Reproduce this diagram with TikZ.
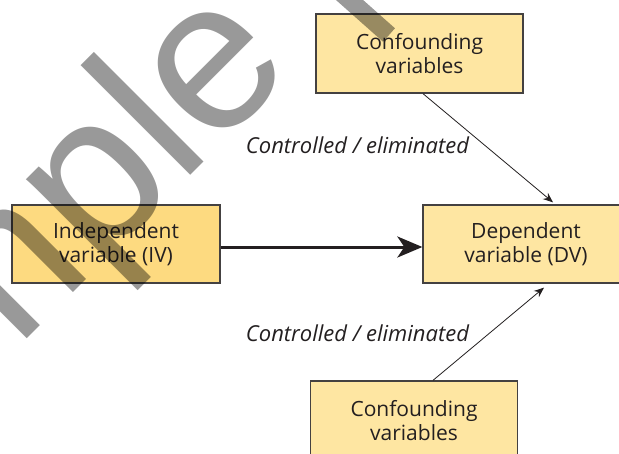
\documentclass[tikz,border=0pt]{standalone}
\usepackage{fontspec}
\setmainfont{Open Sans}
\newfontfamily\markfont{Liberation Sans}
\usetikzlibrary{arrows.meta}
\definecolor{ivfill}{HTML}{FDDA80}
\definecolor{boxfill}{HTML}{FEE6A2}
\definecolor{ink}{HTML}{231F20}
\tikzset{
  varbox/.style={draw=ink!85, line width=1.3pt, fill=boxfill, minimum width=207pt,
    minimum height=79pt, align=center, inner sep=0pt, text=ink,
    font=\fontsize{21}{24.5}\selectfont},
  ctrl/.style={font=\fontsize{22}{26}\selectfont\itshape, text=ink, anchor=base, inner sep=0pt},
  thinarrow/.style={-{Stealth[length=10pt,width=8pt]}, line width=0.8pt, draw=ink}
}

\begin{document}
\begin{tikzpicture}[x=1pt,y=-1pt]
        \useasboundingbox (0,0) rectangle (619,453);
        \clip (0,0) rectangle (619,453);
        \fill[white] (0,0) rectangle (619,453);
        % boxes
        \node[varbox] (conftop) at (419.5,53.5) {Confounding\\variables};
        \node[varbox, fill=ivfill, minimum width=208pt, minimum height=78pt] (iv) at (116,244) {Independent\\variable (IV)};
        \node[varbox, minimum width=206pt, minimum height=78pt] (dv) at (526,244) {Dependent\\variable (DV)};
        \node[varbox] (confbot) at (414,420.5) {Confounding\\variables};
        % labels
        \node[ctrl] (ctrltop) at (357.5,153) {Controlled / eliminated};
        \node[ctrl] (ctrlbot) at (357.5,341) {Controlled / eliminated};
        % arrows
        \draw[-{Stealth[length=25pt,width=21pt,inset=7pt]}, line width=3pt, draw=ink]
          ([yshift=-3pt]iv.east) -- ([yshift=-3pt]dv.west);
        \draw[thinarrow] ([xshift=3.5pt]conftop.south) -- ([xshift=27pt,yshift=2pt]dv.north);
        \draw[thinarrow] ([xshift=19pt]confbot.north) -- ([xshift=18pt,yshift=-4pt]dv.south);
        % watermark
        \node[font=\fontsize{214}{214}\selectfont\markfont, rotate=45, anchor=base west,
          text=black, text opacity=0.4, inner sep=0pt] (mark) at (-215,581) {Sample};
        \draw[black, opacity=0.4, line width=18pt] (336,-12) -- (389,35);
    \end{tikzpicture}
\end{document}
